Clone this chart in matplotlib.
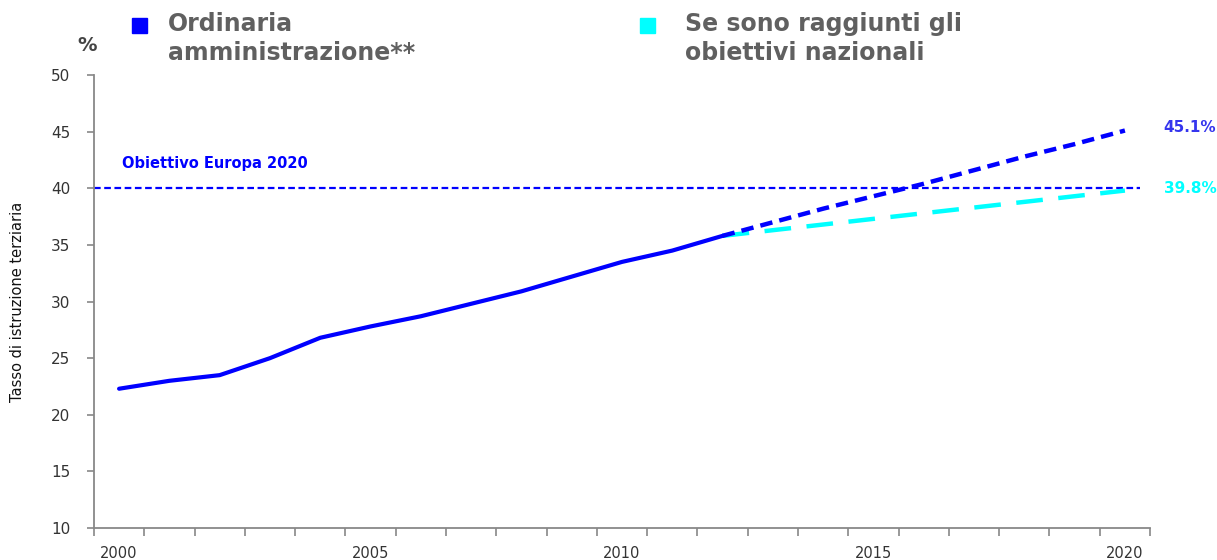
import matplotlib.pyplot as plt
from matplotlib.ticker import FixedLocator, NullFormatter

plt.rcParams['font.family'] = ['DejaVu Sans']

# tasso di istruzione terziaria, storico e proiezioni
years_hist = [2000, 2001, 2002, 2003, 2004, 2005, 2006, 2007, 2008, 2009, 2010, 2011, 2012]
vals_hist = [22.3, 23.0, 23.5, 25.0, 26.8, 27.8, 28.7, 29.8, 30.9, 32.2, 33.5, 34.5, 35.8]

years_proj = [2012, 2013, 2014, 2015, 2016, 2017, 2018, 2019, 2020]
vals_ordinaria = [35.8, 37.0, 38.2, 39.3, 40.4, 41.6, 42.8, 43.9, 45.1]
vals_nazionali = [35.8, 36.3, 36.8, 37.3, 37.8, 38.3, 38.8, 39.3, 39.8]

target_eu = 40
year_labels = [2000, 2005, 2010, 2015, 2020]

blue = '#0000ff'
cyan = '#00ffff'
grey = '#606060'

fig = plt.figure(figsize=(12.17, 5.6), dpi=100)
ax = fig.add_axes([0.0772, 0.0571, 0.8678, 0.8089])

ax.axhline(target_eu, xmin=0, xmax=0.99, color=blue, lw=1.6, dashes=(3, 1.6))
ax.plot(years_proj, vals_nazionali, color=cyan, lw=3.2, dashes=(6, 3.5))
ax.plot(years_proj, vals_ordinaria, color=blue, lw=3.2, dashes=(2.8, 1.6))
ax.plot(years_hist, vals_hist, color=blue, lw=3, solid_capstyle='round')

ax.text(2000.05, 42.2, 'Obiettivo Europa 2020', color=blue, fontsize=10.5,
        fontweight='bold', va='center', ha='left')
ax.text(2020.77, vals_ordinaria[-1] + 0.3, '45.1%', color='#3535ee', fontsize=11,
        fontweight='bold', va='center', ha='left', clip_on=False)
ax.text(2020.77, vals_nazionali[-1] + 0.2, '39.8%', color=cyan, fontsize=11,
        fontweight='bold', va='center', ha='left', clip_on=False)

ax.set_xlim(1999.5, 2020.5)
ax.set_ylim(10, 50)
ax.set_yticks(range(10, 51, 5))
ax.xaxis.set_major_locator(FixedLocator([y - 0.5 for y in range(2000, 2022)]))
ax.xaxis.set_major_formatter(NullFormatter())
ax.xaxis.set_minor_locator(FixedLocator(year_labels))
ax.set_xticklabels([str(y) for y in year_labels], minor=True)
ax.tick_params(axis='x', which='major', length=6, width=1.2, color='#888888')
ax.tick_params(axis='x', which='minor', length=0, pad=13, labelsize=10.5,
               labelcolor='#333333')
ax.tick_params(axis='y', length=5, width=1.2, color='#888888', labelsize=11,
               labelcolor='#333333', pad=12)

for side in ['top', 'right']:
    ax.spines[side].set_visible(False)
for side in ['left', 'bottom']:
    ax.spines[side].set_color('#888888')
    ax.spines[side].set_linewidth(1.3)

ax.set_ylabel('Tasso di istruzione terziaria', fontsize=10.5, color='#111111')
ax.yaxis.set_label_coords(-0.065, 0.5)

fig.text(0.072, 0.918, '%', fontsize=14, fontweight='bold', color='#444444',
         ha='center', va='center')

# legenda in alto
fig.patches.append(plt.Rectangle((0.1085, 0.941), 0.0125, 0.027, color=blue,
                                 transform=fig.transFigure, figure=fig))
fig.text(0.138, 0.978, 'Ordinaria\namministrazione**', fontsize=17,
         fontweight='bold', color=grey, va='top', ha='left', linespacing=1.25)
fig.patches.append(plt.Rectangle((0.5255, 0.941), 0.0125, 0.027, color=cyan,
                                 transform=fig.transFigure, figure=fig))
fig.text(0.563, 0.978, 'Se sono raggiunti gli\nobiettivi nazionali', fontsize=17,
         fontweight='bold', color=grey, va='top', ha='left', linespacing=1.25)

fig.savefig('out.png', dpi=100)
